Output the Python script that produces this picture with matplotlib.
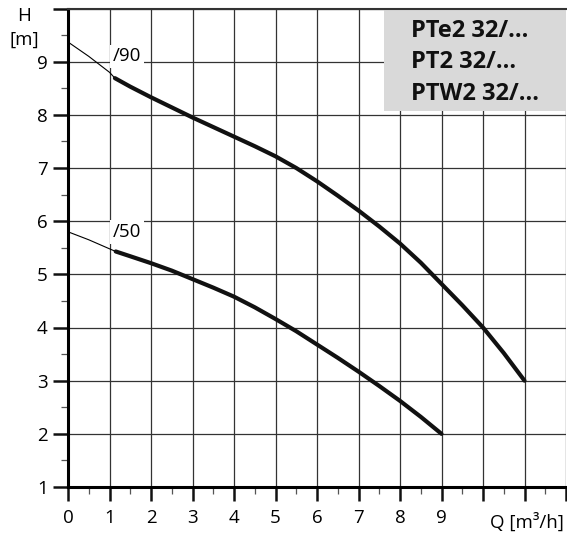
import matplotlib
matplotlib.use("Agg")
import matplotlib.pyplot as plt
from matplotlib.patches import Rectangle
from matplotlib.ticker import MultipleLocator

plt.rcParams['font.family'] = ['Open Sans', 'DejaVu Sans']

# pump curves H(Q), thin part = low-flow range, thick part = working range
q90_thin = [0, 0.5, 1.0, 1.13]
h90_thin = [9.37, 9.1, 8.8, 8.69]
q90 = [1.13, 1.5, 2, 2.5, 3, 3.5, 4, 4.5, 5, 5.5, 6, 6.5, 7, 7.5, 8, 8.5, 9, 9.5, 10, 10.5, 11]
h90 = [8.69, 8.53, 8.33, 8.14, 7.95, 7.77, 7.59, 7.41, 7.22, 7.0, 6.75, 6.48,
       6.2, 5.9, 5.58, 5.22, 4.82, 4.42, 4.0, 3.52, 3.0]

q50_thin = [0, 0.5, 1.0, 1.15]
h50_thin = [5.8, 5.65, 5.48, 5.43]
q50 = [1.15, 1.5, 2, 2.5, 3, 3.5, 4, 4.5, 5, 5.5, 6, 6.5, 7, 7.5, 8, 8.5, 9]
h50 = [5.43, 5.34, 5.21, 5.07, 4.91, 4.75, 4.58, 4.38, 4.16, 3.93, 3.68, 3.43,
       3.17, 2.9, 2.62, 2.32, 2.0]

x_labels = ['0', '1', '2', '3', '4', '5', '6', '7', '8', '9', '', '', '']
y_labels = ['1', '2', '3', '4', '5', '6', '7', '8', '9', '']
models = ['PTe2 32/...', 'PT2 32/...', 'PTW2 32/...']

fig = plt.figure(figsize=(5.67, 5.39), dpi=100)
ax = fig.add_axes([68 / 567, 52 / 539, 498 / 567, 478.5 / 539])
ax.set_xlim(0, 12)
ax.set_ylim(1, 10)

ax.set_xticks(range(13))
ax.set_xticklabels(x_labels)
ax.set_yticks(range(1, 11))
ax.set_yticklabels(y_labels)
ax.xaxis.set_minor_locator(MultipleLocator(0.5))
ax.yaxis.set_minor_locator(MultipleLocator(0.5))
ax.tick_params(which='major', direction='out', length=11, width=1.8,
               labelsize=13.5, color='#111')
ax.tick_params(axis='x', which='major', length=10, pad=6)
ax.tick_params(axis='y', which='major', pad=3.5)
ax.tick_params(which='minor', direction='out', length=5, width=0.9, color='#555')

ax.set_axisbelow(True)
ax.grid(which='major', color='#333', lw=0.9)

for s in ['left', 'bottom']:
    ax.spines[s].set_linewidth(2.2)
    ax.spines[s].set_color('black')
ax.spines['top'].set_linewidth(1.5)
ax.spines['top'].set_color('#333')
ax.spines['right'].set_visible(False)

# grey model box in the upper right corner
ax.add_patch(Rectangle((7.61, 8.08), 12 - 7.61, 10 - 8.08, facecolor='#d9d9d9',
                       edgecolor='none', zorder=1))

ax.plot(q90_thin, h90_thin, color='black', lw=0.8, zorder=3)
ax.plot(q90, h90, color='#111', lw=3.0, solid_capstyle='round', zorder=3)
ax.plot(q50_thin, h50_thin, color='black', lw=0.8, zorder=3)
ax.plot(q50, h50, color='#111', lw=3.0, solid_capstyle='round', zorder=3)

bb = dict(facecolor='white', edgecolor='none', pad=2)
ax.text(1.08, 9.1, '/90', fontsize=13.5, ha='left', va='center', bbox=bb, zorder=2)
ax.text(1.08, 5.8, '/50', fontsize=13.5, ha='left', va='center', bbox=bb, zorder=2)

fig.text(24 / 567, 1 - 16 / 539, 'H', fontsize=13.5, ha='center', va='center')
fig.text(24 / 567, 1 - 40 / 539, '[m]', fontsize=13.5, ha='center', va='center')
fig.text(564 / 567, 1 - 522 / 539, 'Q [m³/h]', fontsize=13.5, ha='right', va='center')

for i, m in enumerate(models):
    fig.text(411 / 567, 1 - (37 + 31.5 * i) / 539, m, fontsize=17,
             fontweight='bold', ha='left', va='baseline', color='#111')

fig.savefig('out.png', dpi=100)
